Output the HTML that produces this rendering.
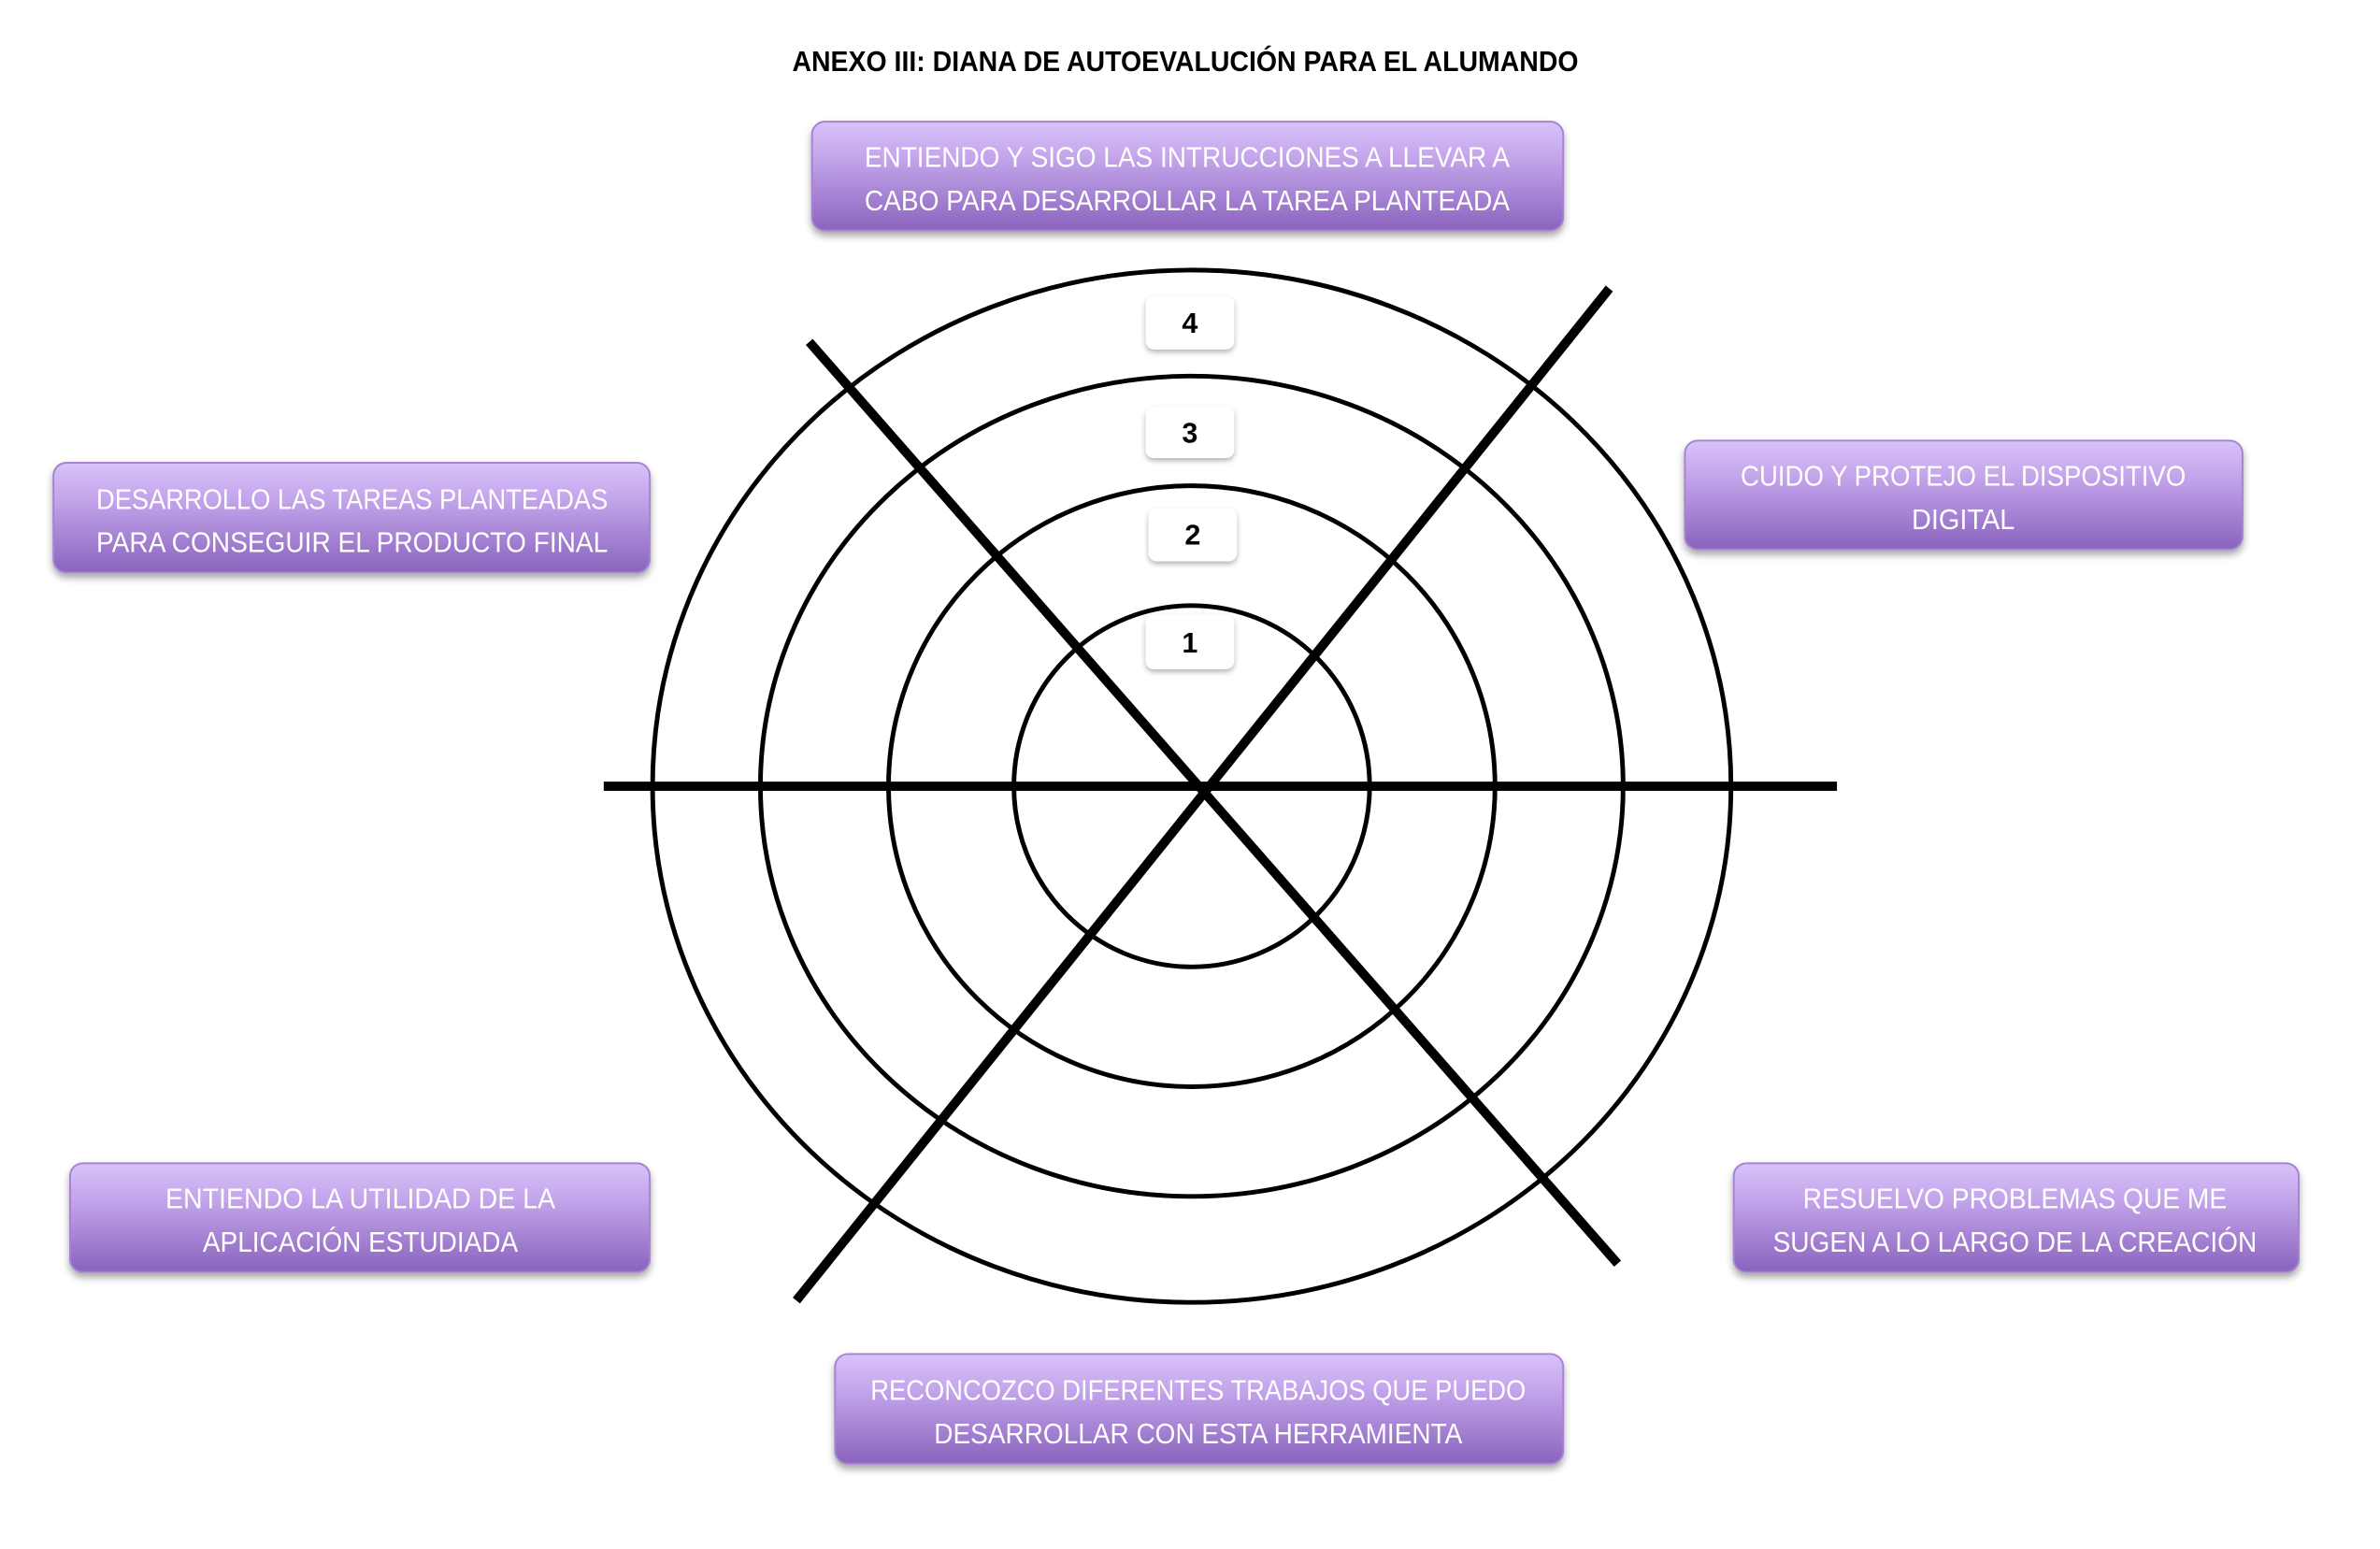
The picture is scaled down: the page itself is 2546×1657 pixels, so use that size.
<!DOCTYPE html>
<html><head><meta charset="utf-8"><style>html,body{margin:0;padding:0;background:#fff}svg{display:block}</style></head>
<body>
<svg width="2546" height="1657" viewBox="0 0 2546 1657" xmlns="http://www.w3.org/2000/svg">
<defs>
<linearGradient id="g" x1="0" y1="0" x2="0" y2="1">
<stop offset="0" stop-color="#d9c2fa"/><stop offset="0.35" stop-color="#c2a3ea"/><stop offset="1" stop-color="#8a63bd"/>
</linearGradient>
<filter id="sh" x="-5%" y="-10%" width="110%" height="130%"><feDropShadow dx="0" dy="5" stdDeviation="4" flood-color="#000" flood-opacity="0.35"/></filter>
<filter id="sh2" x="-20%" y="-20%" width="140%" height="150%"><feDropShadow dx="0" dy="3" stdDeviation="3" flood-color="#000" flood-opacity="0.3"/></filter>
<clipPath id="cp"><rect x="0" y="0" width="2546" height="1417"/></clipPath>
</defs>
<rect width="2546" height="1657" fill="#fff"/>
<g transform="scale(0.986)">
<text x="1286" y="77" text-anchor="middle" font-family="Liberation Sans, sans-serif" font-weight="bold" font-size="31" textLength="853" lengthAdjust="spacingAndGlyphs">ANEXO III: DIANA DE AUTOEVALUCIÓN PARA EL ALUMANDO</text>

<g clip-path="url(#cp)" fill="none" stroke="#000">
<ellipse cx="1293" cy="853" rx="585" ry="560" stroke-width="5"/>
<ellipse cx="1293" cy="853" rx="468" ry="445" stroke-width="5"/>
<ellipse cx="1293" cy="853" rx="329" ry="326" stroke-width="5"/>
<ellipse cx="1293" cy="853" rx="193" ry="196" stroke-width="5"/>
</g>
<g stroke="#000" stroke-width="10">
<line x1="655" y1="853" x2="1993" y2="853"/>
<line x1="878" y1="371" x2="1755" y2="1371"/>
<line x1="1746" y1="313" x2="864" y2="1411"/>
</g>

<g font-family="Liberation Sans, sans-serif" font-weight="bold" font-size="31" text-anchor="middle">
<rect x="1243" y="321" width="96" height="58" rx="9" fill="#fff" filter="url(#sh2)"/><text x="1291" y="361">4</text>
<rect x="1243" y="441" width="96" height="56" rx="9" fill="#fff" filter="url(#sh2)"/><text x="1291" y="480">3</text>
<rect x="1246" y="552" width="96" height="57" rx="9" fill="#fff" filter="url(#sh2)"/><text x="1294" y="591">2</text>
<rect x="1243" y="667" width="96" height="59" rx="9" fill="#fff" filter="url(#sh2)"/><text x="1291" y="708">1</text>
</g>

<g font-family="Liberation Sans, sans-serif" font-size="31" fill="#fff" text-anchor="middle">
<rect x="881" y="132" width="815" height="118" rx="14" fill="url(#g)" stroke="#a584d0" stroke-width="2" filter="url(#sh)"/>
<text x="1288" y="181" textLength="700" lengthAdjust="spacingAndGlyphs">ENTIENDO Y SIGO LAS INTRUCCIONES A LLEVAR A</text>
<text x="1288" y="228" textLength="700" lengthAdjust="spacingAndGlyphs">CABO PARA DESARROLLAR LA TAREA PLANTEADA</text>

<rect x="58" y="502" width="647" height="119" rx="14" fill="url(#g)" stroke="#a584d0" stroke-width="2" filter="url(#sh)"/>
<text x="382" y="552" textLength="555" lengthAdjust="spacingAndGlyphs">DESARROLLO LAS TAREAS PLANTEADAS</text>
<text x="382" y="599" textLength="555" lengthAdjust="spacingAndGlyphs">PARA CONSEGUIR EL PRODUCTO FINAL</text>

<rect x="1828" y="478" width="605" height="118" rx="14" fill="url(#g)" stroke="#a584d0" stroke-width="2" filter="url(#sh)"/>
<text x="2130" y="527" textLength="483" lengthAdjust="spacingAndGlyphs">CUIDO Y PROTEJO EL DISPOSITIVO</text>
<text x="2130" y="574" textLength="112" lengthAdjust="spacingAndGlyphs">DIGITAL</text>

<rect x="76" y="1262" width="629" height="118" rx="14" fill="url(#g)" stroke="#a584d0" stroke-width="2" filter="url(#sh)"/>
<text x="391" y="1311" textLength="423" lengthAdjust="spacingAndGlyphs">ENTIENDO LA UTILIDAD DE LA</text>
<text x="391" y="1358" textLength="342" lengthAdjust="spacingAndGlyphs">APLICACIÓN ESTUDIADA</text>

<rect x="1881" y="1262" width="613" height="118" rx="14" fill="url(#g)" stroke="#a584d0" stroke-width="2" filter="url(#sh)"/>
<text x="2186" y="1311" textLength="460" lengthAdjust="spacingAndGlyphs">RESUELVO PROBLEMAS QUE ME</text>
<text x="2186" y="1358" textLength="525" lengthAdjust="spacingAndGlyphs">SUGEN A LO LARGO DE LA CREACIÓN</text>

<rect x="906" y="1469" width="790" height="119" rx="14" fill="url(#g)" stroke="#a584d0" stroke-width="2" filter="url(#sh)"/>
<text x="1300" y="1519" textLength="711" lengthAdjust="spacingAndGlyphs">RECONCOZCO DIFERENTES TRABAJOS QUE PUEDO</text>
<text x="1300" y="1566" textLength="573" lengthAdjust="spacingAndGlyphs">DESARROLLAR CON ESTA HERRAMIENTA</text>
</g>
</g>
</svg>
</body></html>
